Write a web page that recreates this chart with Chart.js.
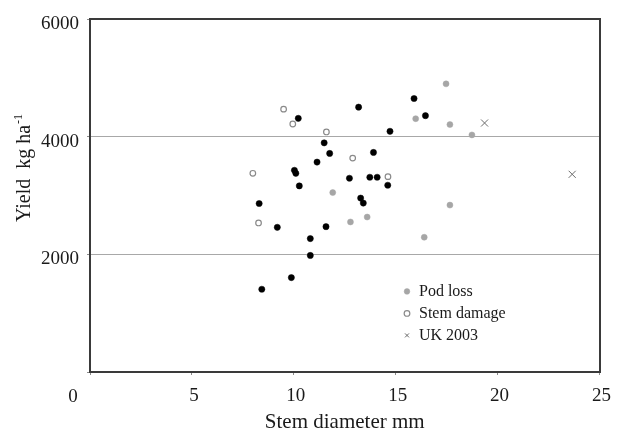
<!DOCTYPE html>
<html><head><meta charset="utf-8">
<script src="https://cdn.jsdelivr.net/npm/chart.js@4/dist/chart.umd.min.js"></script>
<style>html,body{margin:0;padding:0;background:#fff;} #wrap{position:relative;width:619px;height:432px;}</style>
</head><body><div id="wrap"><canvas id="c"></canvas></div>
<script>
// ---- data ----
const podLossDiameter = [15.98, 17.47, 17.66, 18.74, 11.91, 12.78, 13.60, 16.40, 17.66];
const podLossYield    = [4311, 4903, 4210, 4034, 3053, 2553, 2637, 2293, 2840];
const stemDamageDiameter = [9.50, 9.95, 11.60, 7.99, 12.89, 14.62, 8.27];
const stemDamageYield    = [4473, 4220, 4085, 3381, 3640, 3324, 2536];
const uk2003Diameter = [19.36, 23.66];
const uk2003Yield    = [4237, 3364];
const otherDiameter = [10.22, 11.49, 11.76, 11.14, 10.03, 10.10, 13.18, 15.90, 16.46, 14.72, 13.91, 12.73, 13.73, 14.09, 10.27, 8.30, 9.19, 11.58, 10.81, 10.81, 9.88, 8.43, 14.61, 13.28, 13.41];
const otherYield    = [4316, 3899, 3719, 3572, 3432, 3381, 4507, 4654, 4362, 4096, 3736, 3297, 3314, 3314, 3167, 2867, 2462, 2473, 2270, 1983, 1606, 1408, 3178, 2959, 2874];
const seriesLabels = ['Pod loss', 'Stem damage', 'UK 2003'];
const xTicks = [0, 5, 10, 15, 20, 25];
const yTicks = [0, 2000, 4000, 6000];
const xTitle = 'Stem diameter mm';
const yTitleMain = 'Yield  kg ha';
const yTitleSup = '-1';
const originLabel = '0';

const pts = (xs, ys) => xs.map((x, i) => ({x: x, y: ys[i]}));
const FONT = "'Liberation Serif', 'Times New Roman', serif";
Chart.defaults.font.family = FONT;
Chart.defaults.color = '#1a1a1a';

const frameColor = '#3a3a3a';

const extras = {
  id: 'extras',
  beforeDraw(chart) {
    const ca = chart.chartArea;
    const lg = chart.legend;
    if (lg) {
      lg.left = ca.left + 307;
      lg.top = ca.top + 258;
      lg.right = ca.right;
      lg.bottom = ca.bottom;
    }
  },
  afterDraw(chart) {
    const ctx = chart.ctx;
    const ca = chart.chartArea;
    ctx.save();
    ctx.fillStyle = '#1a1a1a';
    // corner origin label
    ctx.font = "19px " + FONT;
    ctx.textAlign = 'center';
    ctx.textBaseline = 'middle';
    ctx.fillText(originLabel, ca.left - 17, ca.bottom + 25);
    // y axis title with superscript
    ctx.translate(30, 168);
    ctx.rotate(-Math.PI / 2);
    ctx.textAlign = 'left';
    ctx.textBaseline = 'alphabetic';
    ctx.font = "20px " + FONT;
    const w1 = ctx.measureText(yTitleMain).width;
    ctx.font = "12px " + FONT;
    const w2 = ctx.measureText(yTitleSup).width;
    const start = -(w1 + w2 + 1) / 2;
    ctx.font = "20px " + FONT;
    ctx.fillText(yTitleMain, start, 0);
    ctx.font = "12px " + FONT;
    ctx.fillText(yTitleSup, start + w1 + 1, -8);
    ctx.restore();
  }
};

new Chart(document.getElementById('c'), {
  type: 'scatter',
  data: {
    datasets: [
      { label: seriesLabels[0], data: pts(podLossDiameter, podLossYield), pointStyle: 'circle',
        pointRadius: 3, backgroundColor: '#a6a6a6', borderColor: '#a6a6a6', borderWidth: 0.5 },
      { label: seriesLabels[1], data: pts(stemDamageDiameter, stemDamageYield), pointStyle: 'circle',
        pointRadius: 2.8, backgroundColor: '#ffffff', borderColor: '#8a8a8a', borderWidth: 1.2 },
      { label: seriesLabels[2], data: pts(uk2003Diameter, uk2003Yield), pointStyle: 'crossRot',
        pointRadius: 5, backgroundColor: '#6b6b6b', borderColor: '#6b6b6b', borderWidth: 1 },
      { label: '', data: pts(otherDiameter, otherYield), pointStyle: 'circle',
        pointRadius: 3.1, backgroundColor: '#000000', borderColor: '#000000', borderWidth: 0.5 }
    ]
  },
  options: {
    responsive: true,
    maintainAspectRatio: false,
    animation: false,
    layout: { padding: 0 },
    plugins: {
      tooltip: { enabled: false },
      legend: {
        position: 'chartArea',
        align: 'start',
        labels: {
          usePointStyle: true,
          boxWidth: 8,
          boxHeight: 4,
          padding: 6,
          color: '#1a1a1a',
          font: { size: 16, family: FONT },
          filter: (item) => item.text !== ''
        }
      }
    },
    scales: {
      x: {
        type: 'linear', position: 'bottom', min: 0, max: 25,
        afterBuildTicks: s => { s.ticks = xTicks.map(v => ({value: v})); },
        afterFit: s => { s.height = 60; },
        ticks: { font: { size: 19 }, padding: 10, maxRotation: 0, autoSkip: false, labelOffset: 2,
                 callback: v => v === 0 ? '' : String(v) },
        grid: { drawOnChartArea: false, drawTicks: true, tickLength: 3, tickColor: '#8a8a8a', color: '#8a8a8a' },
        border: { display: true, color: frameColor, width: 2 },
        title: { display: true, text: xTitle, font: { size: 21, lineHeight: 0.9 }, padding: { top: 0, bottom: 0 }, color: '#1a1a1a' }
      },
      y: {
        type: 'linear', position: 'left', min: 0, max: 6000,
        afterBuildTicks: s => { s.ticks = yTicks.map(v => ({value: v})); },
        afterFit: s => { s.width = 90; },
        ticks: { font: { size: 19 }, padding: 8, labelOffset: 5,
                 callback: v => v === 0 ? '' : String(v) },
        grid: {
          drawTicks: true, tickLength: 3, tickColor: '#8a8a8a', lineWidth: 1,
          color: ctx => (ctx.tick && (ctx.tick.value === 2000 || ctx.tick.value === 4000)) ? '#a8a8a8' : 'rgba(0,0,0,0)'
        },
        border: { display: true, color: frameColor, width: 2 }
      },
      x2: {
        type: 'linear', position: 'top', min: 0, max: 25,
        afterFit: s => { s.height = 17; },
        ticks: { display: false },
        grid: { display: false, drawTicks: false },
        border: { display: true, color: frameColor, width: 2 }
      },
      y2: {
        type: 'linear', position: 'right', min: 0, max: 6000,
        afterFit: s => { s.width = 13; },
        ticks: { display: false },
        grid: { display: false, drawTicks: false },
        border: { display: true, color: frameColor, width: 2 }
      }
    }
  },
  plugins: [extras]
});
</script>
</body></html>
